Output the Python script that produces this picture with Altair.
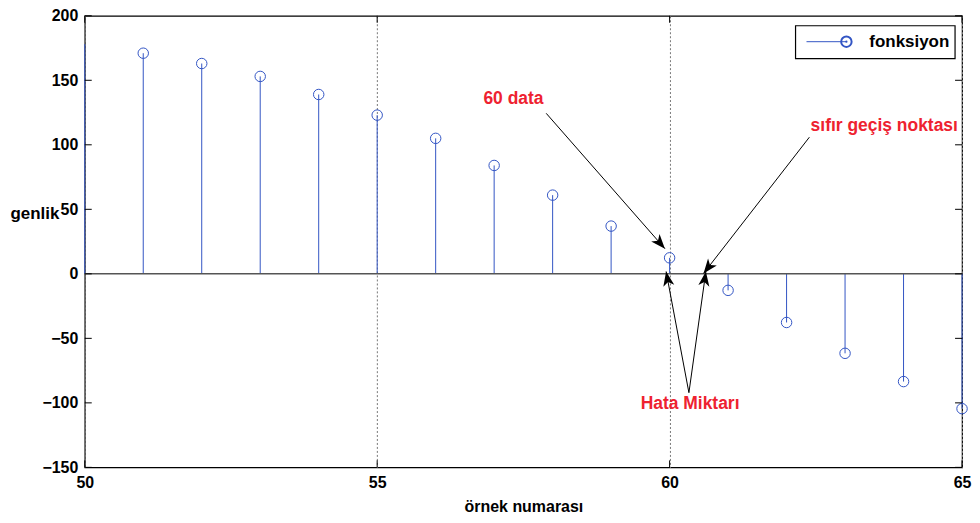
import math
import altair as alt
import pandas as pd

# ---- data ----
sample = [50, 51, 52, 53, 54, 55, 56, 57, 58, 59, 60, 61, 62, 63, 64, 65]
amplitude = [178, 171, 163, 153, 139, 123, 105, 84, 61, 37, 12.4, -12.8, -37.7, -61.6, -83.5, -104.5]
show_marker = [False] + [True] * 15

x_ticks = [50, 55, 60, 65]
y_ticks = [-150, -100, -50, 0, 50, 100, 150, 200]

# annotation arrows (start -> tip), in data units
arr_x0 = [57.89, 62.39, 60.33, 60.33]
arr_y0 = [124.4, 105.9, -92.1, -92.1]
arr_x1 = [59.92, 60.58, 59.94, 60.62]
arr_y1 = [19.5, 0.3, 1.8, 1.8]

ann_text = ["60 data", "sıfır geçiş noktası", "Hata Miktarı"]
ann_x = [57.33, 63.67, 60.35]
ann_y = [135.2, 114.4, -100.7]

# ---- layout / style ----
W, H = 880, 453
XD, YD = [50, 65], [-150, 200]
FONT = "Liberation Sans"
BLUE = "#3355c4"
RED = "#ee2230"

px_x = W / (XD[1] - XD[0])
px_y = H / (YD[1] - YD[0])

df = pd.DataFrame({"n": sample, "a": amplitude, "m": show_marker})
df["base"] = 0

angles = []
for x0, y0, x1, y1 in zip(arr_x0, arr_y0, arr_x1, arr_y1):
    dx = (x1 - x0) * px_x
    dy = -(y1 - y0) * px_y
    angles.append(math.degrees(math.atan2(dx, -dy)) % 360)
arrows = pd.DataFrame({"x0": arr_x0, "y0": arr_y0, "x1": arr_x1, "y1": arr_y1, "ang": angles})
ann = pd.DataFrame({"t": ann_text, "x": ann_x, "y": ann_y})

xs = alt.Scale(domain=XD, nice=False, zero=False)
ys = alt.Scale(domain=YD, nice=False, zero=False)

x_axis = alt.Axis(
    values=x_ticks, ticks=False, domain=False, grid=True, gridDash=[2, 2],
    gridColor="#777777", gridOpacity=1, labelFont=FONT, labelFontSize=16,
    labelFontWeight="bold", labelColor="black", labelPadding=7, labelFlush=False,
    labelOverlap=False,
    title="örnek numarası", titleFont=FONT, titleFontSize=16, titleFontWeight="bold",
    titleColor="black", titleY=39, titleBaseline="middle",
)
y_axis = alt.Axis(
    values=y_ticks, ticks=False, domain=False, grid=False, labelFont=FONT,
    labelFontSize=16, labelFontWeight="bold", labelColor="black", labelPadding=7,
    labelFlush=False, labelOverlap=False,
    title="genlik", titleAngle=0, titleX=-75, titleY=198, titleAlign="left",
    titleBaseline="middle", titleFont=FONT, titleFontSize=17, titleFontWeight="bold",
    titleColor="black",
)


def X(f):
    return alt.X(f, scale=xs, axis=x_axis, title="örnek numarası")


def Y(f):
    return alt.Y(f, scale=ys, axis=y_axis, title="genlik")


base = alt.Chart(df)

stems = base.mark_rule(color=BLUE, strokeWidth=1).encode(
    x=X("n:Q"), y=Y("base:Q"), y2="a:Q",
)
zero = alt.Chart(pd.DataFrame({"z": [0]})).mark_rule(color="#555555", strokeWidth=1.5).encode(
    y=Y("z:Q")
)
circles = base.transform_filter("datum.m").mark_point(
    shape="circle", filled=False, color=BLUE, strokeWidth=1, size=110, opacity=1
).encode(x=X("n:Q"), y=Y("a:Q"))

yt = pd.DataFrame({"v": y_ticks})
xt = pd.DataFrame({"v": x_ticks})
tick_l = alt.Chart(yt).mark_rule(color="black").encode(
    y=Y("v:Q"), x=alt.value(0), x2=alt.value(7))
tick_r = alt.Chart(yt).mark_rule(color="black").encode(
    y=Y("v:Q"), x=alt.value(W - 7), x2=alt.value(W))
tick_b = alt.Chart(xt).mark_rule(color="black").encode(
    x=X("v:Q"), y=alt.value(H - 7), y2=alt.value(H))
tick_t = alt.Chart(xt).mark_rule(color="black").encode(
    x=X("v:Q"), y=alt.value(0), y2=alt.value(7))

shafts = alt.Chart(arrows).mark_rule(color="black", strokeWidth=1).encode(
    x=X("x0:Q"), y=Y("y0:Q"), x2="x1:Q", y2="y1:Q",
)
heads = alt.Chart(arrows).mark_point(
    shape="M0,0L-0.42,1.1L0,0.8L0.42,1.1Z", filled=True, color="black", size=700, opacity=1
).encode(
    x=X("x1:Q"), y=Y("y1:Q"), angle=alt.Angle("ang:Q", scale=None),
)
labels = alt.Chart(ann).mark_text(
    color=RED, font=FONT, fontSize=17.5, fontWeight="bold", align="center", baseline="middle"
).encode(x=X("x:Q"), y=Y("y:Q"), text="t:N")

one = alt.Data(values=[{}])
leg_box = alt.Chart(one).mark_rect(fill="white", stroke="black", strokeWidth=1.2).encode(
    x=alt.value(713), x2=alt.value(873), y=alt.value(10), y2=alt.value(43))
leg_line = alt.Chart(one).mark_rule(color=BLUE, strokeWidth=1).encode(
    x=alt.value(724), x2=alt.value(764), y=alt.value(26))
leg_pt = alt.Chart(one).mark_point(shape="circle", filled=False, color=BLUE, size=110, opacity=1).encode(
    x=alt.value(764), y=alt.value(26))
leg_dot = alt.Chart(one).mark_point(shape="circle", filled=True, color=BLUE, size=5, opacity=1).encode(
    x=alt.value(764), y=alt.value(26))
leg_txt = alt.Chart(one).mark_text(
    text="fonksiyon", font=FONT, fontSize=17, fontWeight="bold", align="left", baseline="middle",
    color="black").encode(x=alt.value(787), y=alt.value(26))

chart = alt.layer(
    stems, zero, circles, tick_l, tick_r, tick_b, tick_t, shafts, heads, labels,
    leg_box, leg_line, leg_pt, leg_dot, leg_txt,
).properties(
    width=W, height=H,
    autosize=alt.AutoSizeParams(type="none"),
    padding={"left": 77, "top": 7, "right": 10, "bottom": 56},
    background="white",
).configure_view(stroke="black", strokeWidth=1.2)

chart.save("out.html", embed_options={"renderer": "svg", "actions": False})
